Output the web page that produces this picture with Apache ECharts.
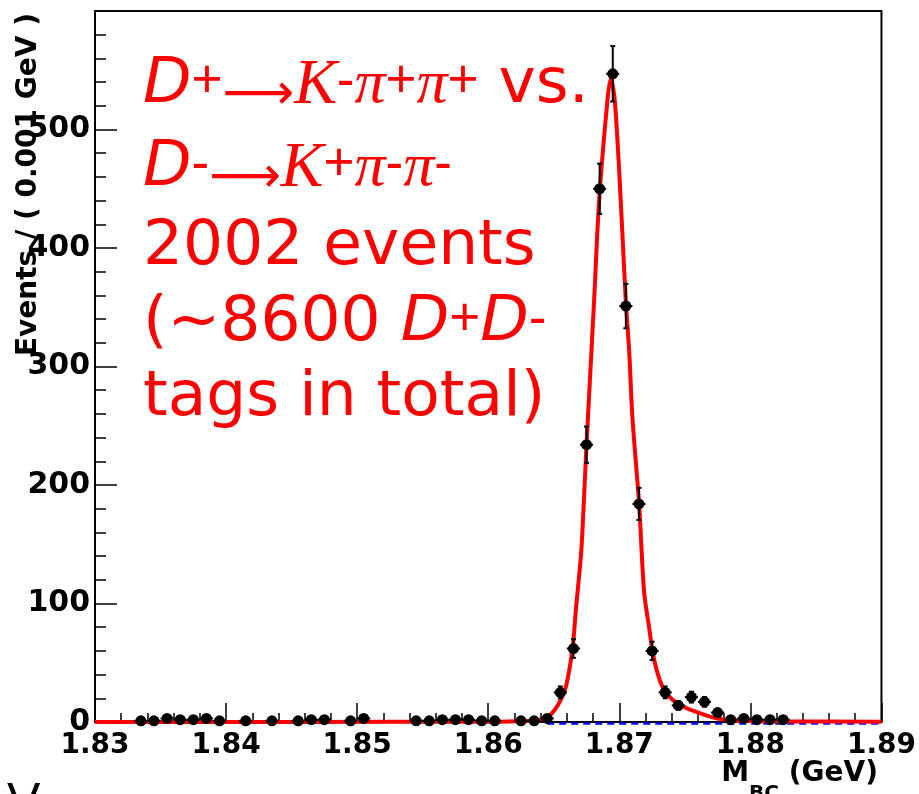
<!DOCTYPE html>
<html>
<head>
<meta charset="utf-8">
<script src="https://cdn.jsdelivr.net/npm/echarts@6/dist/echarts.min.js"></script>
<style>
  html, body { margin: 0; padding: 0; background: #fff; }
  #chart { width: 919px; height: 794px; }
</style>
</head>
<body>
<div id="chart"></div>
<script>
// Filled M_BC bins (bin centres, GeV) and their event counts
const binMass = [
  1.8335, 1.8345, 1.8355, 1.8365, 1.8375, 1.8385, 1.8395, 1.8415, 1.8435,
  1.8455, 1.8465, 1.8475, 1.8495, 1.8505, 1.8545, 1.8555, 1.8565, 1.8575,
  1.8585, 1.8595, 1.8605, 1.8625, 1.8635, 1.8645, 1.8655, 1.8665, 1.8675,
  1.8685, 1.8695, 1.8705, 1.8715, 1.8725, 1.8735, 1.8745, 1.8755, 1.8765,
  1.8775, 1.8785, 1.8795, 1.8805, 1.8815, 1.8825
];
const binCounts = [
  1, 1, 3, 2, 2, 3, 1, 1, 1,
  1, 2, 2, 1, 3, 1, 1, 2, 2,
  2, 1, 1, 1, 1, 3, 25, 62, 234,
  450, 547, 351, 184, 60, 25, 14, 21, 17,
  8, 2, 3, 2, 2, 2
];

// Fitted total shape, sampled along M_BC
const fitMass = [
  1.8300, 1.8450, 1.8600, 1.8630, 1.8640, 1.86465, 1.86541, 1.86593, 1.86643,
  1.86669, 1.86707, 1.86719, 1.86750, 1.86808, 1.86846, 1.86909, 1.86935,
  1.86966, 1.87011, 1.87049, 1.87075, 1.87100, 1.87151, 1.87189, 1.87227,
  1.87265, 1.87328, 1.87404, 1.87507, 1.87608, 1.87760, 1.87912, 1.8820, 1.8900
];
const fitTotal = [
  0.1, 0.1, 0.2, 0.8, 2, 5, 16, 30, 62,
  95, 140, 162, 234, 356, 440, 524, 543,
  524, 440, 356, 314, 257, 184, 110, 80,
  53, 30, 19, 12, 7.7, 2.7, 1, 0.5, 0.3
];

// Background component (visible part, just under the frame line)
const bkgMass = [1.8645, 1.89];
const bkgLevel = [-1.3, -1.3];

const HALF_BIN = 0.0005;
const RED = '#ff0000';

const chart = echarts.init(document.getElementById('chart'), null, { renderer: 'canvas' });

function renderPoint(params, api) {
  const m = api.value(0);
  const n = api.value(1);
  const err = Math.sqrt(n);
  const c = api.coord([m, n]);
  const hi = api.coord([m, n + err]);
  const lo = api.coord([m, Math.max(n - err, 0)]);
  const l = api.coord([m - HALF_BIN, n]);
  const r = api.coord([m + HALF_BIN, n]);
  const ls = { stroke: '#000', lineWidth: 2 };
  return {
    type: 'group',
    children: [
      { type: 'line', shape: { x1: c[0], y1: hi[1], x2: c[0], y2: lo[1] }, style: ls },
      { type: 'line', shape: { x1: c[0] - 2.5, y1: hi[1], x2: c[0] + 2.5, y2: hi[1] }, style: ls },
      { type: 'line', shape: { x1: c[0] - 2.5, y1: lo[1], x2: c[0] + 2.5, y2: lo[1] }, style: ls },
      { type: 'line', shape: { x1: l[0], y1: c[1], x2: r[0], y2: c[1] }, style: ls },
      { type: 'circle', shape: { cx: c[0], cy: c[1], r: 5.5 }, style: { fill: '#000' } }
    ]
  };
}

const richRed = {
  di: { fontFamily: 'DejaVu Sans', fontStyle: 'italic', fontSize: 63, fill: RED },
  up: { fontFamily: 'Liberation Sans', fontSize: 53, fill: RED, padding: [0, 0, 8, 0] },
  ar: { fontFamily: 'DejaVu Sans', fontSize: 50, fill: RED, padding: [20, 0, 0, 0] },
  kk: { fontFamily: 'Liberation Serif', fontStyle: 'italic', fontSize: 64, fill: RED },
  pi: { fontFamily: 'Liberation Serif', fontStyle: 'italic', fontSize: 62, fill: RED },
  tx: { fontFamily: 'DejaVu Sans', fontSize: 63, fill: RED }
};

function redLine(text, y) {
  return {
    type: 'text', x: 143, y: y, z: 10,
    style: { text: text, rich: richRed, fill: RED, align: 'left', verticalAlign: 'middle' }
  };
}

const option = {
  backgroundColor: '#fff',
  animation: false,
  grid: {
    left: 95, right: 37, top: 11, bottom: 72,
    show: true, borderColor: '#000', borderWidth: 2, backgroundColor: 'transparent'
  },
  xAxis: {
    type: 'value', min: 1.83, max: 1.89, interval: 0.01,
    axisLine: { show: false },
    axisTick: { show: true, inside: true, length: 19, lineStyle: { color: '#000', width: 1.5 } },
    minorTick: { show: true, splitNumber: 5, length: 9, lineStyle: { color: '#000', width: 1.5 } },
    splitLine: { show: false },
    axisLabel: {
      margin: 10, color: '#000', fontFamily: 'DejaVu Sans', fontWeight: 'bold', fontSize: 28,
      formatter: v => v.toFixed(2)
    }
  },
  yAxis: {
    type: 'value', min: 0, max: 600, interval: 100,
    axisLine: { show: false },
    axisTick: { show: true, inside: true, length: 22, lineStyle: { color: '#000', width: 1.5 } },
    minorTick: { show: true, splitNumber: 5, length: 11, lineStyle: { color: '#000', width: 1.5 } },
    splitLine: { show: false },
    axisLabel: {
      margin: 5, color: '#000', fontFamily: 'DejaVu Sans', fontWeight: 'bold', fontSize: 30,
      showMaxLabel: false
    }
  },
  series: [
    {
      type: 'line', z: 3, clip: false, showSymbol: false, silent: true,
      data: bkgMass.map((m, i) => [m, bkgLevel[i]]),
      lineStyle: { color: '#0000ff', width: 2.5, type: [7, 5] }
    },
    {
      type: 'line', z: 4, clip: false, showSymbol: false, silent: true, smooth: 0.3,
      data: fitMass.map((m, i) => [m, fitTotal[i]]),
      lineStyle: { color: RED, width: 4 }
    },
    {
      type: 'custom', z: 5, clip: false, silent: true,
      renderItem: renderPoint,
      data: binMass.map((m, i) => [m, binCounts[i]])
    }
  ],
  graphic: [
    redLine('{di|D}{up|+}{ar|⟶}{kk|K}{up|-}{pi|π}{up|+}{pi|π}{up|+}{tx| vs.}', 86),
    redLine('{di|D}{up|-}{ar|⟶}{kk|K}{up|+}{pi|π}{up|-}{pi|π}{up|-}', 169),
    redLine('{tx|2002 events}', 248),
    redLine('{tx|(~8600 }{di|D}{up|+}{di|D}{up|-}', 324),
    redLine('{tx|tags in total)}', 399),
    {
      type: 'text', x: 29, y: 13, rotation: Math.PI / 2,
      style: {
        text: 'Events / ( 0.001 GeV )', align: 'right', verticalAlign: 'middle',
        font: 'bold 28px "DejaVu Sans"', fill: '#000'
      }
    },
    {
      type: 'text', x: 878, y: 774,
      style: {
        text: '{m|M}{s|BC}{m| (GeV)}', align: 'right', verticalAlign: 'middle',
        rich: {
          m: { fontFamily: 'DejaVu Sans', fontWeight: 'bold', fontSize: 28, fill: '#000' },
          s: { fontFamily: 'DejaVu Sans', fontWeight: 'bold', fontSize: 20, fill: '#000', padding: [40, 0, 0, 0] }
        }
      }
    },
    {
      type: 'text', x: 7, y: 779,
      style: { text: 'V', verticalAlign: 'top', font: '50px "Liberation Sans"', fill: '#000' }
    }
  ]
};

chart.setOption(option);
</script>
</body>
</html>
